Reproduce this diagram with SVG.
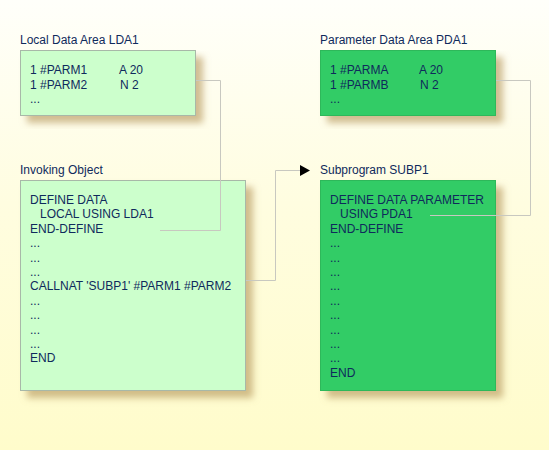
<svg xmlns="http://www.w3.org/2000/svg" width="549" height="450" viewBox="0 0 549 450">
  <defs>
    <linearGradient id="bg" x1="0" y1="0" x2="0" y2="1">
      <stop offset="0" stop-color="#FFFFFA"/>
      <stop offset="0.45" stop-color="#FFFDE0"/>
      <stop offset="1" stop-color="#FFFCCB"/>
    </linearGradient>
    <filter id="shadow" x="-10%" y="-10%" width="130%" height="130%">
      <feGaussianBlur in="SourceAlpha" stdDeviation="3.5"/>
      <feOffset dx="7" dy="7" result="b"/>
      <feFlood flood-color="#B89A60" flood-opacity="0.65"/>
      <feComposite in2="b" operator="in"/>
      <feMerge><feMergeNode/><feMergeNode in="SourceGraphic"/></feMerge>
    </filter>
    <marker id="arrow" viewBox="0 0 10 9" refX="10" refY="4.5" markerWidth="10" markerHeight="9" markerUnits="userSpaceOnUse" orient="auto">
      <path d="M0,0 L10,4.5 L0,9 Z" fill="#000"/>
    </marker>
  </defs>
  <style>
    text { font-family: "Liberation Sans", Arial, sans-serif; font-size: 12px; fill: #0F2A5C; }
    .light { fill: #CCFFCC; stroke: #A8B8A8; stroke-width: 1; }
    .dark { fill: #33CC66; stroke: #2DB85A; stroke-width: 1; }
    .conn { fill: none; stroke: #C8C8C0; stroke-width: 1; }
  </style>
  <rect x="0" y="0" width="549" height="450" fill="url(#bg)"/>

  <g id="lda1">
    <text x="20" y="44">Local Data Area LDA1</text>
    <rect class="light" x="20.5" y="50.5" width="175" height="65" filter="url(#shadow)"/>
    <text x="30" y="74">1 #PARM1</text>
    <text x="119" y="74">A 20</text>
    <text x="30" y="88.5">1 #PARM2</text>
    <text x="120" y="88.5">N 2</text>
    <text x="30" y="103">...</text>
  </g>

  <g id="pda1">
    <text x="320" y="44">Parameter Data Area PDA1</text>
    <rect class="dark" x="320.5" y="50.5" width="175" height="65" filter="url(#shadow)"/>
    <text x="330" y="74">1 #PARMA</text>
    <text x="419" y="74">A 20</text>
    <text x="330" y="88.5">1 #PARMB</text>
    <text x="420" y="88.5">N 2</text>
    <text x="330" y="103">...</text>
  </g>

  <g id="invoking">
    <text x="20" y="174">Invoking Object</text>
    <rect class="light" x="20.5" y="180.5" width="225" height="210" filter="url(#shadow)"/>
    <text x="30" y="204">DEFINE DATA</text>
    <text x="40" y="218.4">LOCAL USING LDA1</text>
    <text x="30" y="232.8">END-DEFINE</text>
    <text x="30" y="247.2">...</text>
    <text x="30" y="261.6">...</text>
    <text x="30" y="276">...</text>
    <text x="30" y="290.4">CALLNAT 'SUBP1' #PARM1 #PARM2</text>
    <text x="30" y="304.8">...</text>
    <text x="30" y="319.2">...</text>
    <text x="30" y="333.6">...</text>
    <text x="30" y="348">...</text>
    <text x="30" y="362.4">END</text>
  </g>

  <g id="subp1">
    <text x="320" y="174">Subprogram SUBP1</text>
    <rect class="dark" x="320.5" y="180.5" width="175" height="210" filter="url(#shadow)"/>
    <text x="330" y="204">DEFINE DATA PARAMETER</text>
    <text x="340" y="218.4">USING PDA1</text>
    <text x="330" y="232.8">END-DEFINE</text>
    <text x="330" y="247.2">...</text>
    <text x="330" y="261.6">...</text>
    <text x="330" y="276">...</text>
    <text x="330" y="290.4">...</text>
    <text x="330" y="304.8">...</text>
    <text x="330" y="319.2">...</text>
    <text x="330" y="333.6">...</text>
    <text x="330" y="348">...</text>
    <text x="330" y="362.4">...</text>
    <text x="330" y="376.8">END</text>
  </g>

  <g id="connectors">
    <path class="conn" d="M196,80.5 H220.5 V230.5 H160"/>
    <path class="conn" d="M496,80.5 H530.5 V215.5 H430"/>
    <path class="conn" d="M246,280.5 H275.5 V170.5 H300"/>
    <path d="M300,165 L310,170.5 L300,176 Z" fill="#000"/>
  </g>
</svg>
